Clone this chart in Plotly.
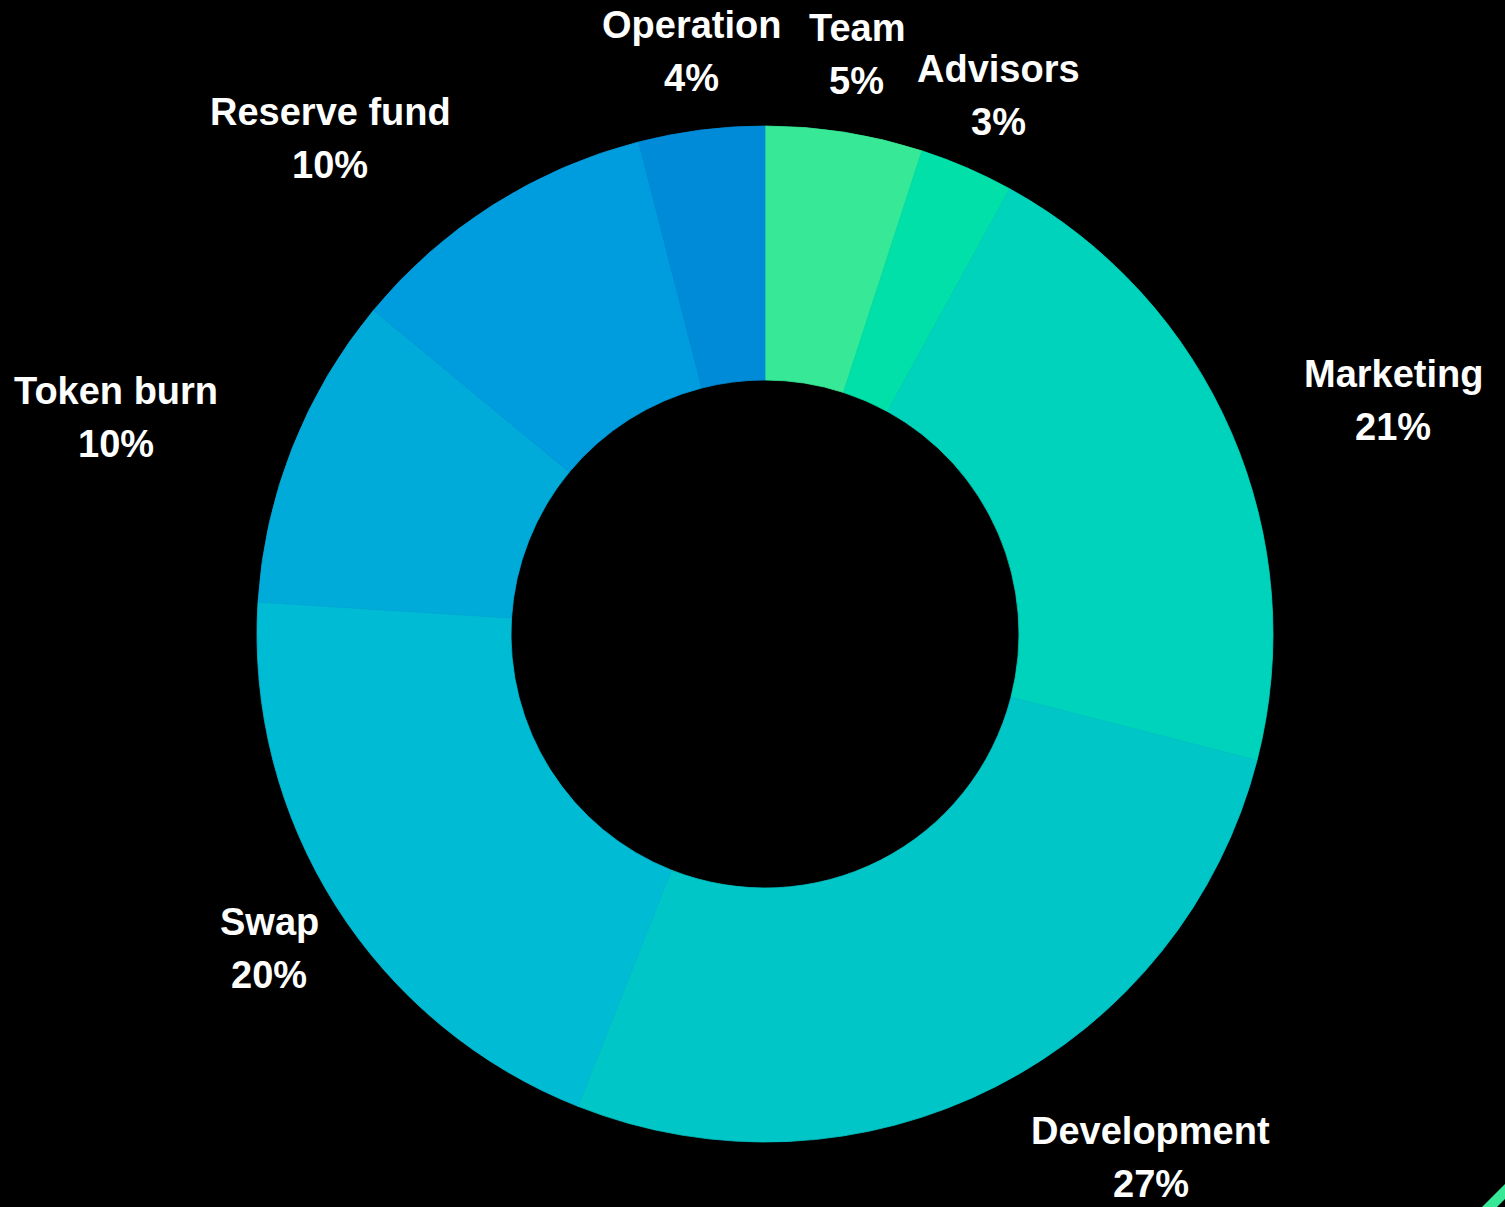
import math
import plotly.graph_objects as go

labels = ["Team", "Advisors", "Marketing", "Development", "Swap", "Token burn", "Reserve fund", "Operation"]
values = [5, 3, 21, 27, 20, 10, 10, 4]
colors = ["#37E896", "#00E0A8", "#00D3BC", "#00C6C8", "#00BBD4", "#00ABDA", "#009DDE", "#008BD8"]
label_anchors = ["center", "center", "left", "left", "center", "right", "right", "center"]

W, H = 1505, 1207
CX, CY, R = 765, 634, 508
LABEL_R = 587
FONT_SIZE = 38
LINE_GAP = 53
FONT = "Liberation Sans, Arial, sans-serif"

# Arial / Liberation Sans Bold advance widths (per 1000 em)
ADV = {"T": 611, "e": 556, "a": 556, "m": 889, "A": 722, "d": 611, "v": 556, "i": 278,
       "s": 556, "o": 611, "r": 389, "M": 833, "k": 556, "t": 333, "n": 611, "g": 611,
       "D": 722, "l": 278, "p": 611, "S": 667, "w": 778, "b": 611, "u": 611, "R": 722,
       "f": 333, "O": 778, " ": 278, "%": 889}


def text_width(s):
    return sum(ADV.get(c, 556) for c in s) * FONT_SIZE / 1000


fig = go.Figure(go.Pie(
    labels=labels,
    values=values,
    marker=dict(colors=colors, line=dict(width=0.8, color=colors)),
    hole=0.5,
    sort=False,
    direction="clockwise",
    rotation=0,
    textinfo="none",
    hoverinfo="skip",
    showlegend=False,
    domain=dict(x=[(CX - R) / W, (CX + R) / W], y=[(H - CY - R) / H, (H - CY + R) / H]),
))

total = sum(values)
cum = 0
annotations = []
for lab, v, anc in zip(labels, values, label_anchors):
    mid = (cum + v / 2) / total * 2 * math.pi
    cum += v
    px = CX + LABEL_R * math.sin(mid)
    py = CY - LABEL_R * math.cos(mid)
    pct = f"{round(v / total * 100)}%"
    block_w = max(text_width(lab), text_width(pct))
    if anc == "left":
        bx = px + block_w / 2
    elif anc == "right":
        bx = px - block_w / 2
    else:
        bx = px
    for txt, shift in ((lab, LINE_GAP / 2), (pct, -LINE_GAP / 2)):
        annotations.append(dict(
            x=bx / W, y=1 - py / H, xref="paper", yref="paper",
            text=f"<b>{txt}</b>", showarrow=False,
            xanchor="center", yanchor="middle", yshift=shift,
            font=dict(family=FONT, size=FONT_SIZE, color="white"),
        ))

fig.update_layout(
    width=W, height=H,
    margin=dict(l=0, r=0, t=0, b=0),
    paper_bgcolor="black",
    plot_bgcolor="black",
    annotations=annotations,
    shapes=[dict(type="path", xref="paper", yref="paper",
                 path=f"M {1482/W} {1 - 1207/H} L {1505/W} {1 - 1184/H} L {1505/W} {1 - 1199/H} L {1497/W} {1 - 1207/H} Z",
                 fillcolor="#37E896", line=dict(width=0))],
)

fig.write_html("out.html", config={"displayModeBar": False},
               post_script="document.body.style.margin='0';document.body.style.background='black';")
